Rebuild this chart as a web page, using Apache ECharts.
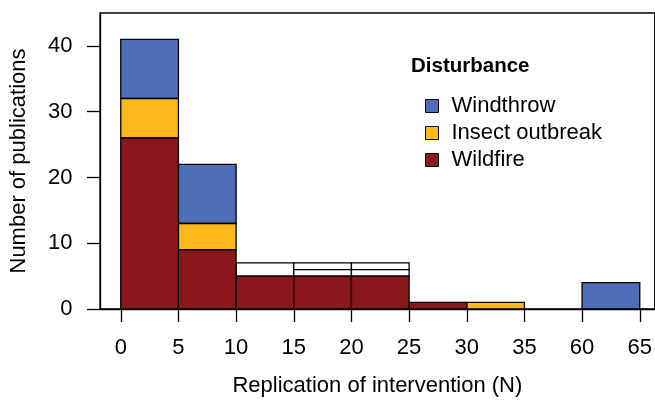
<!DOCTYPE html>
<html><head><meta charset="utf-8">
<script src="https://cdn.jsdelivr.net/npm/echarts@6/dist/echarts.min.js"></script>
<style>html,body{margin:0;padding:0;background:#fff}#c{width:655px;height:402px}</style>
</head><body><div id="c"></div>
<script>
// Tick labels of the (broken) x axis: 35 -> 60 are adjacent ticks
const tickLabels = ['0', '5', '10', '15', '20', '25', '30', '35', '60', '65'];
// Lower edge of each histogram bin (bin width 5)
const binStarts = ['0', '5', '10', '15', '20', '25', '30', '60'];
// Counts per bin
const wildfire       = [26, 9, 5, 5, 5, 1, 0, 0];
const insectOutbreak = [6, 4, 0, 1, 1, 0, 1, 0];
const windthrow      = [9, 9, 2, 1, 1, 0, 0, 4];
// Bins whose non-wildfire segments are drawn unfilled in the original
const unfilledBins = ['10', '15', '20'];
const yTicks = [0, 10, 20, 30, 40];
const legendOrder = ['Windthrow', 'Insect outbreak', 'Wildfire'];

const FONT = "'Liberation Sans', Arial, Helvetica, sans-serif";
const colors = { 'Windthrow': '#4F6EB8', 'Insect outbreak': '#FDB91C', 'Wildfire': '#8A171B' };

// stacking bottom -> top
const stackOrder = [['Wildfire', wildfire], ['Insect outbreak', insectOutbreak], ['Windthrow', windthrow]];
const base = binStarts.map(() => 0);
const seriesData = {};
stackOrder.forEach(([name, vals]) => {
  seriesData[name] = [];
  vals.forEach((v, i) => {
    const pos = tickLabels.indexOf(binStarts[i]);
    if (v > 0) {
      const unfilled = (name !== 'Wildfire' && unfilledBins.indexOf(binStarts[i]) >= 0) ? 1 : 0;
      seriesData[name].push([pos, pos + 1, base[i], base[i] + v, unfilled]);
    }
    base[i] += v;
  });
});

function makeRender(name) {
  return function (params, api) {
    const p0 = api.coord([api.value(0), api.value(3)]);
    const p1 = api.coord([api.value(1), api.value(2)]);
    return {
      type: 'rect',
      shape: { x: p0[0], y: p0[1], width: p1[0] - p0[0], height: p1[1] - p0[1] },
      style: { fill: api.value(4) ? '#ffffff' : colors[name], stroke: '#000', lineWidth: 1.3 }
    };
  };
}

const chart = echarts.init(document.getElementById('c'), null, { renderer: 'canvas' });
chart.setOption({
  animation: false,
  backgroundColor: '#fff',
  textStyle: { fontFamily: FONT },
  title: {
    text: 'Disturbance', left: 411, top: 55, padding: 0,
    textStyle: { fontFamily: FONT, fontSize: 20.5, fontWeight: 'bold', color: '#000', lineHeight: 22 }
  },
  legend: {
    data: legendOrder, orient: 'vertical', left: 420, top: 90,
    icon: 'rect', itemWidth: 13, itemHeight: 13, itemGap: 5,
    itemStyle: { borderColor: '#000', borderWidth: 1 },
    textStyle: { fontFamily: FONT, fontSize: 22, color: '#000', lineHeight: 22, padding: [0, 0, 0, 8] },
    selectedMode: false
  },
  grid: { left: 100, top: 13, right: -3, bottom: 92, show: true, borderColor: '#000', borderWidth: 1.3, backgroundColor: 'transparent' },
  xAxis: {
    type: 'value', min: -0.36, max: 9.26,
    name: 'Replication of intervention (N)', nameLocation: 'middle', nameGap: 66,
    nameTextStyle: { fontFamily: FONT, fontSize: 22, color: '#000' },
    axisLine: { show: true, onZero: false, lineStyle: { color: '#000', width: 1.3 } },
    axisTick: { show: true, length: 13, lineStyle: { color: '#000', width: 1.3 }, customValues: tickLabels.map((t, i) => i) },
    axisLabel: { fontFamily: FONT, fontSize: 22, color: '#000', margin: 28,
      customValues: tickLabels.map((t, i) => i), formatter: v => tickLabels[Math.round(v)] },
    splitLine: { show: false }
  },
  yAxis: {
    type: 'value', min: 0, max: 45,
    name: 'Number of publications', nameLocation: 'middle', nameGap: 70,
    nameTextStyle: { fontFamily: FONT, fontSize: 22, color: '#000' },
    axisLine: { show: true, onZero: false, lineStyle: { color: '#000', width: 1.3 } },
    axisTick: { show: true, length: 13, lineStyle: { color: '#000', width: 1.3 }, customValues: yTicks },
    axisLabel: { fontFamily: FONT, fontSize: 22, color: '#000', margin: 27.5, customValues: yTicks },
    splitLine: { show: false }
  },
  series: legendOrder.map(name => ({
    name: name, type: 'custom', renderItem: makeRender(name),
    itemStyle: { color: colors[name] },
    encode: { x: [0, 1], y: [2, 3] },
    data: seriesData[name]
  }))
});
</script></body></html>
